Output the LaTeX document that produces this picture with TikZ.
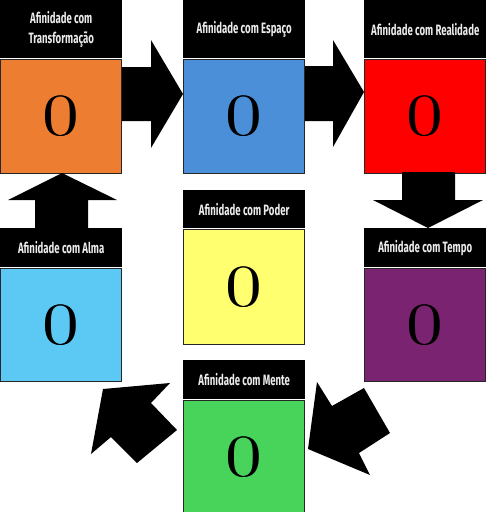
\documentclass[tikz,border=0pt]{standalone}
\usepackage{fontspec}
\newfontfamily\hdrfont[FakeStretch=0.64]{Fira Sans}
\usetikzlibrary{positioning}
\definecolor{cTrans}{HTML}{ED7D31}
\definecolor{cEsp}{HTML}{4A8FD8}
\definecolor{cReal}{HTML}{FF0000}
\definecolor{cTempo}{HTML}{7A2370}
\definecolor{cAlma}{HTML}{5CC8F4}
\definecolor{cPoder}{HTML}{FFFF70}
\definecolor{cMente}{HTML}{48D35A}
\definecolor{hdrtext}{HTML}{ECECEC}
\tikzset{
  hdrbox/.style={fill=black, draw=none, minimum width=122pt, inner sep=0pt,
    text=hdrtext, font=\hdrfont\bfseries\fontsize{15}{20}\selectfont, align=center},
  bodybox/.style={draw=black!85, line width=1.2pt, minimum width=121pt, inner sep=0pt,
    font=\fontsize{60}{60}\selectfont},
  blockarrow/.style={fill=black, draw=none}
}
\newcommand{\zeroval}{\scalebox{1.3}[1]{\rlap{0}\hspace{0.9pt}0}}
\begin{document}
\begin{tikzpicture}[x=1pt,y=-1pt]
\useasboundingbox (0,0) rectangle (487,512);
% Transformacao
\node[hdrbox, minimum height=58pt, anchor=north west] (hTrans) at (0,0) {Afinidade com\\Transformação};
\node[bodybox, fill=cTrans, minimum height=114pt, anchor=north] (bTrans) at ([yshift=-0.6pt]hTrans.south) {\zeroval};
% Espaco
\node[hdrbox, minimum height=58pt, anchor=north west] (hEsp) at (183,0) {Afinidade com Espaço};
\node[bodybox, fill=cEsp, minimum height=114pt, anchor=north] (bEsp) at ([yshift=-0.6pt]hEsp.south) {\zeroval};
% Realidade
\node[hdrbox, minimum height=58pt, anchor=north west] (hReal) at (364,0) {Afinidade com Realidade};
\node[bodybox, fill=cReal, minimum height=114pt, anchor=north] (bReal) at ([yshift=-0.6pt]hReal.south) {\zeroval};
% Tempo
\node[hdrbox, minimum height=39pt, anchor=north west] (hTempo) at (364,228) {Afinidade com Tempo};
\node[bodybox, fill=cTempo, minimum height=113pt, anchor=north] (bTempo) at ([yshift=-0.6pt]hTempo.south) {\zeroval};
% Alma
\node[hdrbox, minimum height=39pt, anchor=north west] (hAlma) at (0,228) {Afinidade com Alma};
\node[bodybox, fill=cAlma, minimum height=113pt, anchor=north] (bAlma) at ([yshift=-0.6pt]hAlma.south) {\zeroval};
% Poder
\node[hdrbox, minimum height=38pt, anchor=north west] (hPoder) at (183,190) {Afinidade com Poder};
\node[bodybox, fill=cPoder, minimum height=115pt, anchor=north] (bPoder) at ([yshift=-0.6pt]hPoder.south) {\zeroval};
% Mente
\node[hdrbox, minimum height=39pt, anchor=north west] (hMente) at (183,360) {Afinidade com Mente};
\node[bodybox, fill=cMente, minimum height=114pt, anchor=north] (bMente) at ([yshift=-0.6pt]hMente.south) {\zeroval};
% arrows
\fill[blockarrow] (122,67) -- (151,67) -- (151,40) -- (183,94) -- (151,148) -- (151,121) -- (122,121) -- cycle;
\fill[blockarrow] (305,66) -- (333,66) -- (333,40) -- (364,92) -- (333,147) -- (333,121) -- (305,121) -- cycle;
\fill[blockarrow] (402,172) -- (455,172) -- (455,200) -- (483,200) -- (428,228) -- (373,200) -- (402,200) -- cycle;
\fill[blockarrow] (35,228) -- (88,228) -- (88,200) -- (117,200) -- (62,173) -- (8,200) -- (35,200) -- cycle;
\fill[blockarrow] (103,389) -- (170,383) -- (151,403) -- (177,430) -- (137,463) -- (111,437) -- (91,454) -- cycle;
\fill[blockarrow] (308,449) -- (370,475) -- (359,453) -- (390,433) -- (364,388) -- (332,406) -- (317,382) -- cycle;
\end{tikzpicture}
\end{document}
